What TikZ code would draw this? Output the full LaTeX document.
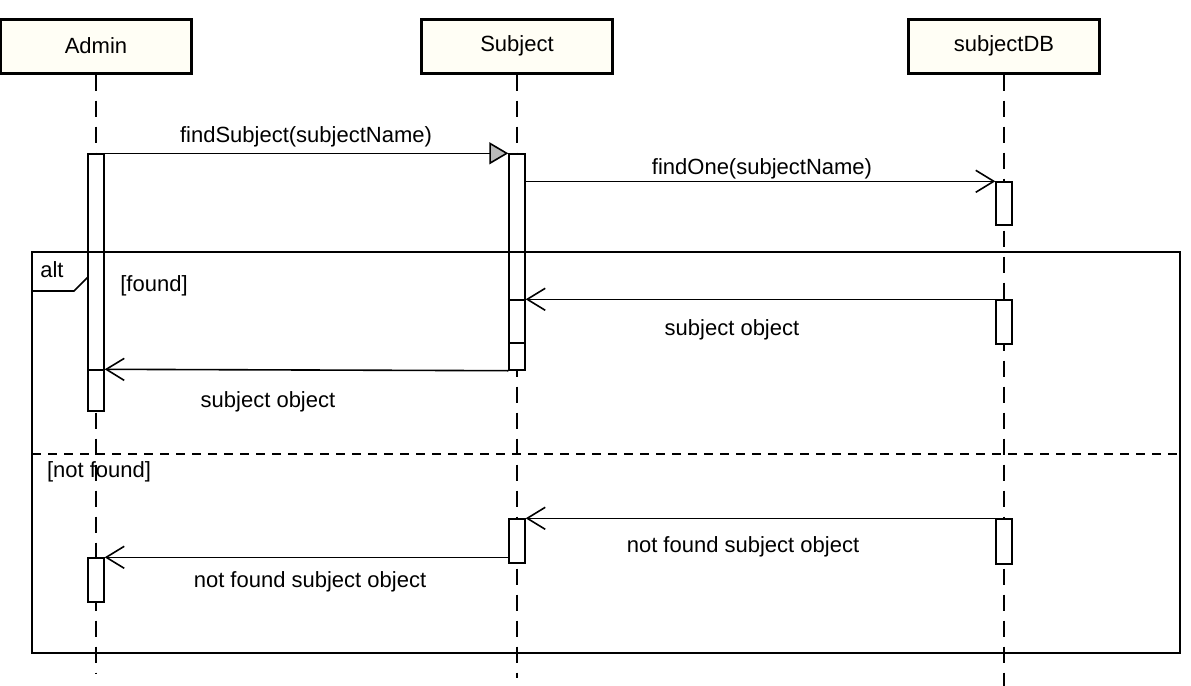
\documentclass[tikz,border=0pt]{standalone}
\usepackage{fontspec}
\setmainfont{Liberation Sans}
\usetikzlibrary{arrows.meta,fit}

\begin{document}
\begin{tikzpicture}[x=0.5pt, y=-0.5pt,
    font=\fontsize{11}{13}\selectfont,
    head/.style={draw, line width=1.5pt, fill=yellow!4, minimum width=95.5pt, minimum height=27pt, inner sep=0pt},
    lifeline/.style={line width=0.9pt, dash pattern=on 8pt off 5pt},
    actbar/.style={draw, line width=0.7pt, fill=white, inner sep=0pt},
    frame/.style={line width=0.8pt},
    call/.style={line width=0.8pt, -{Triangle[length=9.5pt,width=11pt,fill=gray!55]}},
    msg/.style={line width=0.8pt, -{Straight Barb[length=9pt,width=11pt]}}]
  \useasboundingbox (0,0) rectangle (1191,686);
  % lifeline heads
  \node[head] (admin) at (96,46) {Admin};
  \node[head] (subject) at (517,46) {Subject};
  \node[head] (subjectdb) at (1004,46) {subjectDB};
  % lifelines
  \coordinate (adminend) at (96,674);
  \coordinate (subjectend) at (517,678);
  \coordinate (subjectdbend) at (1004,686);
  \draw[lifeline] (admin) -- (adminend);
  \draw[lifeline] (subject) -- (subjectend);
  \draw[lifeline] (subjectdb) -- (subjectdbend);
  % activation bars
  \node[actbar, fit={(88,154) (104,411)}] (adminbar) {};
  \node[actbar, fit={(88,370) (104,411)}] (adminbar2) {};
  \node[actbar, fit={(88,558) (104,602)}] (adminbar3) {};
  \node[actbar, fit={(509,154) (525,370)}] (subjbar) {};
  \node[actbar, fit={(509,300) (525,343)}] (subjbar2) {};
  \node[actbar, fit={(509,519) (525,563)}] (subjbar3) {};
  \node[actbar, fit={(996,182) (1012,225)}] (dbbar) {};
  \node[actbar, fit={(996,300) (1012,344)}] (dbbar2) {};
  \node[actbar, fit={(996,519) (1012,564)}] (dbbar3) {};
  % messages
  \draw[call] (adminbar.north east) -- (subjbar.north west);
  \draw[msg] (subjbar.east |- dbbar.north) -- (dbbar.north west);
  \draw[msg] (dbbar2.north west) -- (subjbar2.north east);
  \draw[msg] (subjbar.south west) -- (adminbar2.north east);
  \draw[msg] (dbbar3.north west) -- (subjbar3.north east);
  \draw[msg] (subjbar3.west |- adminbar3.north) -- (adminbar3.north east);
  % alt fragment
  \draw[frame] (32,252) rectangle (1180,653);
  \draw[frame] (32,252) -| (88,277) -- (74,291) -| (32,252);
  \draw[frame, dash pattern=on 4.5pt off 3.5pt] (32,454) -- (1180,454);
  \node (alt) at (52,270) {alt};
  \node (found) at (154,286) {[found]};
  \node[anchor=west] (notfound) at (40,472) {[not found]};
  % labels
  \node (findlbl) at (306,137) {findSubject(subjectName)};
  \node (onelbl) at (762,169) {findOne(subjectName)};
  \node (retlbl) at (732,330) {subject object};
  \node (retlbl2) at (268,402) {subject object};
  \node (nflbl) at (743,547) {not found subject object};
  \node (nflbl2) at (310,582) {not found subject object};
\end{tikzpicture}
\end{document}
